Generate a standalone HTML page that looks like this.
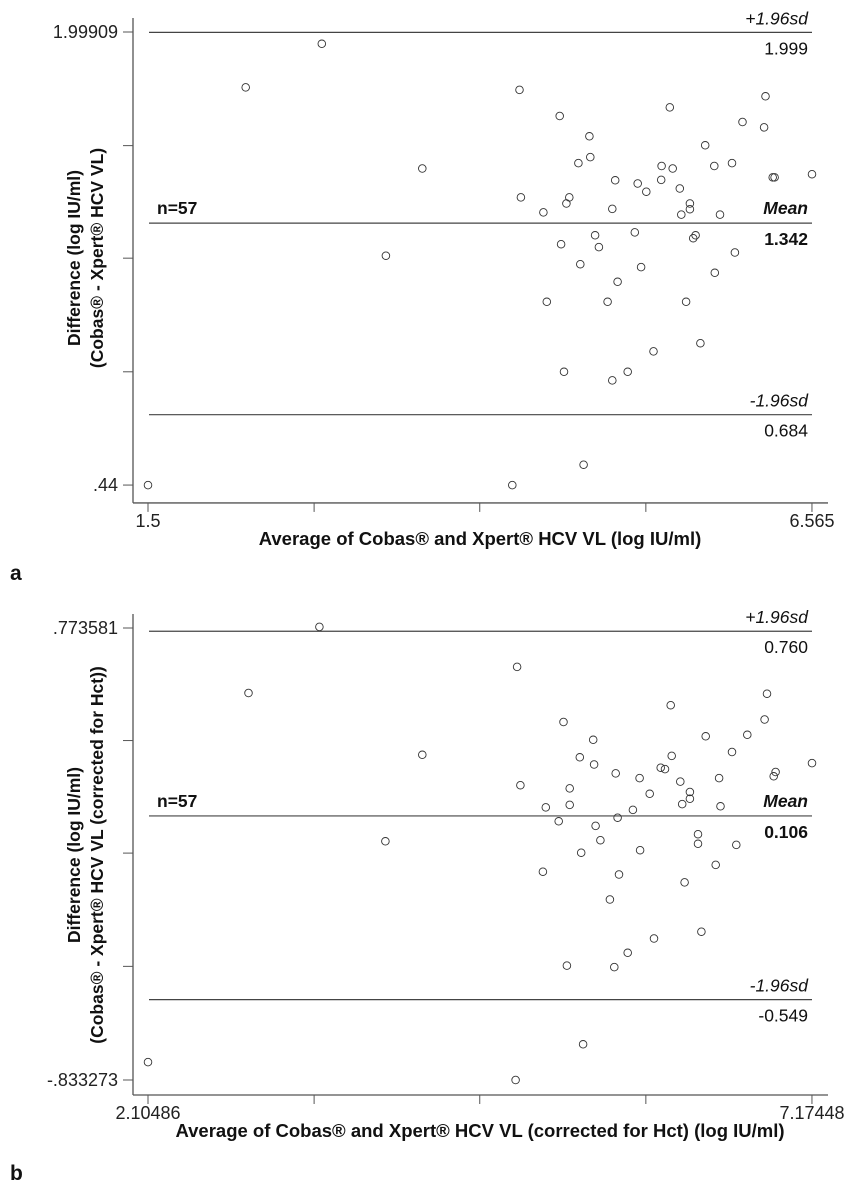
<!DOCTYPE html>
<html><head><meta charset="utf-8"><style>
html,body{margin:0;padding:0;background:#fff;}
svg{display:block;font-family:"Liberation Sans",Arial,sans-serif;}
</style></head><body>
<svg id="s" width="847" height="1200" viewBox="0 0 847 1200" xmlns="http://www.w3.org/2000/svg">
<rect width="847" height="1200" fill="#fff"/>
<g id="g"></g>
</svg>
<script>
var g=document.getElementById('g'),out='';
function X(zx){return 148+(zx-105)*0.4787;}
function plot(o){
  var y0=o.y0, Y=function(zy){return y0+(zy-o.zr)*0.3573;};
  var s='';
  var axB=Y(o.axis);
  s+='<line x1="133" y1="'+(Y(o.ticks[0])-14)+'" x2="133" y2="'+axB+'" stroke="#555" stroke-width="1.3"/>';
  s+='<line x1="133" y1="'+axB+'" x2="828" y2="'+axB+'" stroke="#555" stroke-width="1.3"/>';
  o.ticks.forEach(function(t){var y=Y(t);s+='<line x1="123" y1="'+y+'" x2="133" y2="'+y+'" stroke="#555" stroke-width="1"/>';});
  [105,452,798,1145,1492].forEach(function(t){var x=X(t);s+='<line x1="'+x+'" y1="'+axB+'" x2="'+x+'" y2="'+(axB+9)+'" stroke="#555" stroke-width="1"/>';});
  s+='<text x="118" y="'+(Y(o.ticks[0])+6)+'" font-size="18" text-anchor="end" fill="#222">'+o.yt[0]+'</text>';
  s+='<text x="118" y="'+(Y(o.ticks[4])+6)+'" font-size="18" text-anchor="end" fill="#222">'+o.yt[1]+'</text>';
  s+='<text x="148" y="'+(axB+24)+'" font-size="18" text-anchor="middle" fill="#222">'+o.xt[0]+'</text>';
  s+='<text x="812" y="'+(axB+24)+'" font-size="18" text-anchor="middle" fill="#222">'+o.xt[1]+'</text>';
  s+='<text x="'+o.xtx+'" y="'+(axB+42)+'" font-size="18.5" font-weight="bold" text-anchor="middle" fill="#111">'+o.xtitle+'</text>';
  var cy=o.cy;
  s+='<text transform="translate(80,'+cy+') rotate(-90)" font-size="17.5" font-weight="bold" text-anchor="middle" fill="#111">Difference (log IU/ml)</text>';
  s+='<text transform="translate(103,'+cy+') rotate(-90)" font-size="17.5" font-weight="bold" text-anchor="middle" fill="#111">'+o.ytitle+'</text>';
  o.lines.forEach(function(l){var y=Y(l);s+='<line x1="149" y1="'+y+'" x2="812" y2="'+y+'" stroke="#444" stroke-width="1.2"/>';});
  var u=Y(o.lines[0]),m=Y(o.lines[1]),d=Y(o.lines[2]);
  s+='<text x="808" y="'+(u-8)+'" font-size="17.5" font-style="italic" text-anchor="end" fill="#111">+1.96sd</text>';
  s+='<text x="808" y="'+(u+22)+'" font-size="17.5" text-anchor="end" fill="#111">'+o.v[0]+'</text>';
  s+='<text x="157" y="'+(m-9)+'" font-size="17.5" font-weight="bold" fill="#111">n=57</text>';
  s+='<text x="808" y="'+(m-9)+'" font-size="17.5" font-weight="bold" font-style="italic" text-anchor="end" fill="#111">Mean</text>';
  s+='<text x="808" y="'+(m+22)+'" font-size="17.5" font-weight="bold" text-anchor="end" fill="#111">'+o.v[1]+'</text>';
  s+='<text x="808" y="'+(d-8)+'" font-size="17.5" font-style="italic" text-anchor="end" fill="#111">-1.96sd</text>';
  s+='<text x="808" y="'+(d+22)+'" font-size="17.5" text-anchor="end" fill="#111">'+o.v[2]+'</text>';
  for(var i=0;i<o.p.length;i+=2){s+='<circle cx="'+X(o.p[i]).toFixed(1)+'" cy="'+Y(o.p[i+1]).toFixed(1)+'" r="3.8" fill="none" stroke="#333" stroke-width="0.9"/>';}
  s+='<text x="10" y="'+o.labY+'" font-size="21" font-weight="bold" fill="#111">'+o.lab+'</text>';
  return s;
}
var pa=[468,123,309,245,881,252,678,472,602,716,965,325,1195,301,1395,270,1347,342,1392,357,1027,382,1269,407,1029,440,1004,457,1178,465,1201,472,1288,465,1325,457,1410,497,1414,497,1492,488,1081,505,1128,514,1177,504,1146,537,1216,528,884,553,985,553,979,570,1237,570,931,595,1075,585,1237,586,1219,601,1300,601,1039,659,1122,651,1249,659,1244,667,968,684,1047,692,1331,707,1008,740,1135,748,1289,764,1086,789,938,845,1065,845,1229,845,1259,961,1161,984,974,1041,1107,1041,1075,1065,1015,1301,105,1358,866,1358];
var pb=[463,75,315,260,876,187,678,433,601,675,973,341,1197,294,1398,262,1393,334,1270,381,1357,377,1035,391,1325,425,1007,440,1199,436,1037,460,1176,469,1185,473,1492,456,1416,481,1412,493,1082,485,1132,498,1298,498,1217,508,883,518,986,527,1153,542,1237,537,1237,556,936,580,986,573,1221,571,1301,577,1118,587,1086,609,963,619,1040,632,1254,655,1050,672,1254,682,1334,685,1133,700,1010,707,1291,741,930,760,1089,768,1226,790,1070,838,1261,928,1162,947,1107,987,980,1023,1079,1027,1014,1243,105,1293,873,1343];
out+=plot({y0:32,zr:90,axis:1408,ticks:[90,408,723,1041,1358],yt:['1.99909','.44'],xt:['1.5','6.565'],xtx:480,xtitle:'Average of Cobas® and Xpert® HCV VL (log IU/ml)',ytitle:'(Cobas® - Xpert® HCV VL)',cy:258,lines:[91,625,1161],v:['1.999','1.342','0.684'],p:pa,lab:'a',labY:580});
out+=plot({y0:628,zr:78,axis:1385,ticks:[78,393,708,1025,1343],yt:['.773581','-.833273'],xt:['2.10486','7.17448'],xtx:480,xtitle:'Average of Cobas® and Xpert® HCV VL (corrected for Hct) (log IU/ml)',ytitle:'(Cobas® - Xpert® HCV VL (corrected for Hct))',cy:855,lines:[87,604,1118],v:['0.760','0.106','-0.549'],p:pb,lab:'b',labY:1180});
g.innerHTML=out;
</script>
</body></html>
